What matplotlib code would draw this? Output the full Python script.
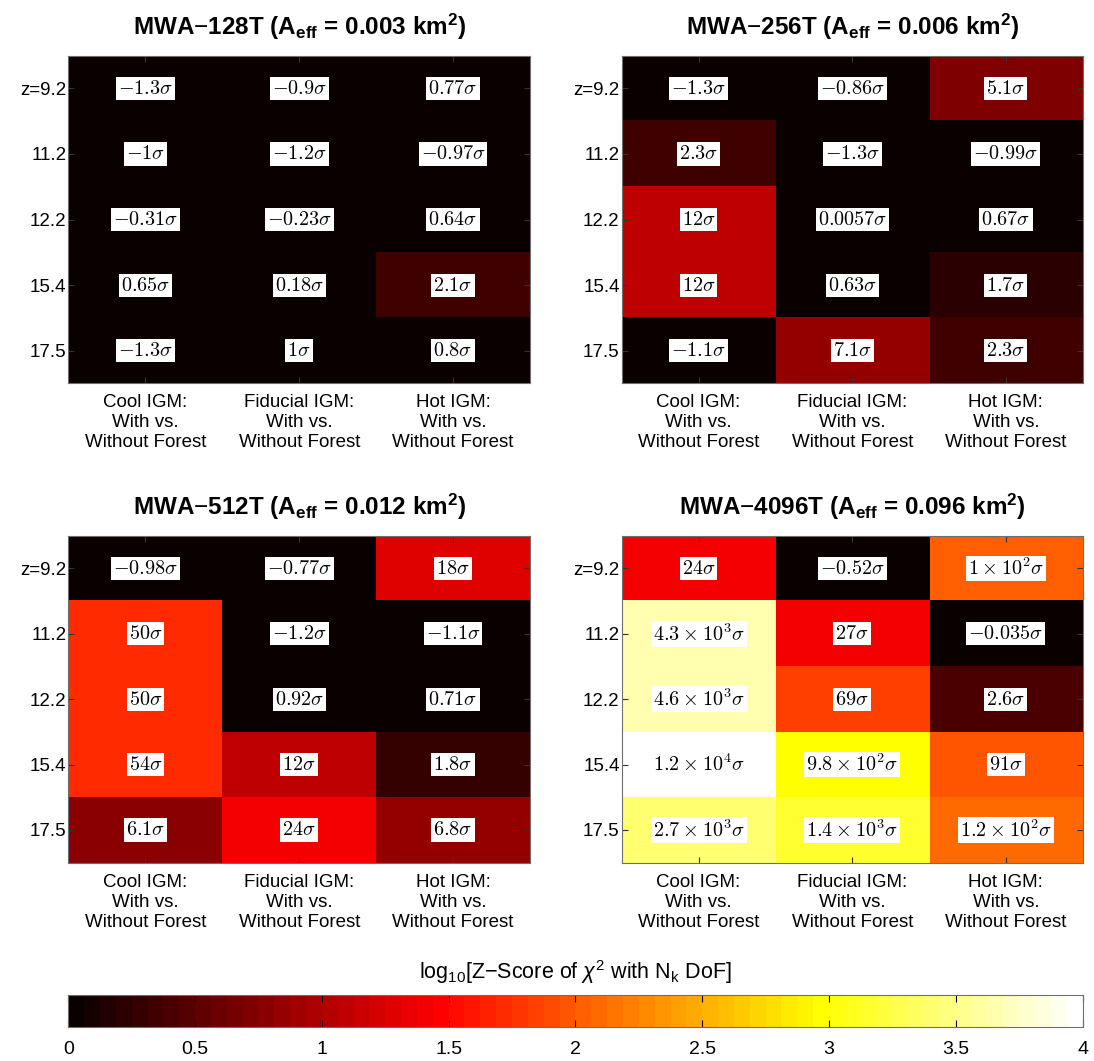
import numpy as np
import matplotlib
matplotlib.use("Agg")
import matplotlib.pyplot as plt
from matplotlib.colors import ListedColormap

plt.rcParams['font.family'] = ['Liberation Sans', 'DejaVu Sans']
plt.rcParams['mathtext.fontset'] = 'custom'
plt.rcParams['mathtext.rm'] = 'Liberation Sans'
plt.rcParams['mathtext.it'] = 'Liberation Sans:italic'
plt.rcParams['mathtext.bf'] = 'Liberation Sans:bold'

# data
redshifts = ['z=9.2', '11.2', '12.2', '15.4', '17.5']
models = ['Cool IGM:\nWith vs.\nWithout Forest',
          'Fiducial IGM:\nWith vs.\nWithout Forest',
          'Hot IGM:\nWith vs.\nWithout Forest']
titles = [r'MWA$-$128T (A$_{\mathbf{eff}}$ = 0.003 km$^{\mathbf{2}}$)',
          r'MWA$-$256T (A$_{\mathbf{eff}}$ = 0.006 km$^{\mathbf{2}}$)',
          r'MWA$-$512T (A$_{\mathbf{eff}}$ = 0.012 km$^{\mathbf{2}}$)',
          r'MWA$-$4096T (A$_{\mathbf{eff}}$ = 0.096 km$^{\mathbf{2}}$)']

z128 = [[-1.3, -0.9, 0.77],
        [-1, -1.2, -0.97],
        [-0.31, -0.23, 0.64],
        [0.65, 0.18, 2.1],
        [-1.3, 1, 0.8]]
z256 = [[-1.3, -0.86, 5.1],
        [2.3, -1.3, -0.99],
        [12, 0.0057, 0.67],
        [12, 0.63, 1.7],
        [-1.1, 7.1, 2.3]]
z512 = [[-0.98, -0.77, 18],
        [50, -1.2, -1.1],
        [50, 0.92, 0.71],
        [54, 12, 1.8],
        [6.1, 24, 6.8]]
z4096 = [[24, -0.52, 1e2],
         [4.3e3, 27, -0.035],
         [4.6e3, 69, 2.6],
         [1.2e4, 9.8e2, 91],
         [2.7e3, 1.4e3, 1.2e2]]
allZ = [z128, z256, z512, z4096]

# matlab style hot(64)
r = np.concatenate([np.arange(1, 25) / 24, np.ones(40)])
g = np.concatenate([np.zeros(24), np.arange(1, 25) / 24, np.ones(16)])
b = np.concatenate([np.zeros(48), np.arange(1, 17) / 16])
hot64 = ListedColormap(np.column_stack([r, g, b]))


def label(v):
    if abs(v) >= 100:
        e = int(np.floor(np.log10(abs(v))))
        m = v / 10 ** e
        return r'$%s \:\times\: 10^{%d}\sigma$' % ('%.2g' % m, e)
    return r'$%s\sigma$' % ('%.2g' % v)


fig = plt.figure(figsize=(10.94, 10.61), dpi=100)
positions = [[0.0626, 0.6387, 0.4218, 0.3088],
             [0.5683, 0.6387, 0.4214, 0.3088],
             [0.0626, 0.1869, 0.4218, 0.3082],
             [0.5683, 0.1869, 0.4214, 0.3082]]
edge = '#6e6e6e'

for k in range(4):
    ax = fig.add_axes(positions[k])
    z = np.array(allZ[k], dtype=float)
    c = np.log10(np.clip(z, 1, None))
    ax.imshow(c, cmap=hot64, vmin=0, vmax=4, aspect='auto', interpolation='nearest')
    for i in range(z.shape[0]):
        for j in range(z.shape[1]):
            ax.text(j, i, label(z[i, j]), ha='center', va='center', fontsize=14.5,
                    math_fontfamily='cm',
                    bbox=dict(facecolor='white', edgecolor='none', pad=1.5))
    ax.set_xticks(range(3))
    ax.set_xticklabels(models, fontsize=13.5, linespacing=1.22)
    ax.set_yticks(range(5))
    ax.set_yticklabels(redshifts, fontsize=13.5)
    ax.tick_params(direction='in', length=4, color='#333333', top=True, right=True)
    ax.tick_params(axis='x', pad=8)
    ax.tick_params(axis='y', pad=1.5)
    for s in ax.spines.values():
        s.set_color(edge)
    ax.set_title(titles[k], fontsize=17.5, fontweight='bold', pad=15)

cax = fig.add_axes([0.0624, 0.0323, 0.9272, 0.0296])
sm = plt.cm.ScalarMappable(cmap=hot64, norm=plt.Normalize(0, 4))
cb = fig.colorbar(sm, cax=cax, orientation='horizontal')
cb.set_ticks(np.arange(0, 4.01, 0.5))
cb.set_ticklabels(['0', '0.5', '1', '1.5', '2', '2.5', '3', '3.5', '4'])
cax.tick_params(direction='in', length=5, color='black', top=True, labelsize=14, pad=10)
cb.outline.set_edgecolor(edge)
cax.set_title(r'log$_{\mathrm{10}}$[Z$-$Score of $\chi^{\mathrm{2}}$ with N$_{\mathrm{k}}$ DoF]',
              fontsize=15.5, pad=12)

fig.savefig('out.png', dpi=100)
